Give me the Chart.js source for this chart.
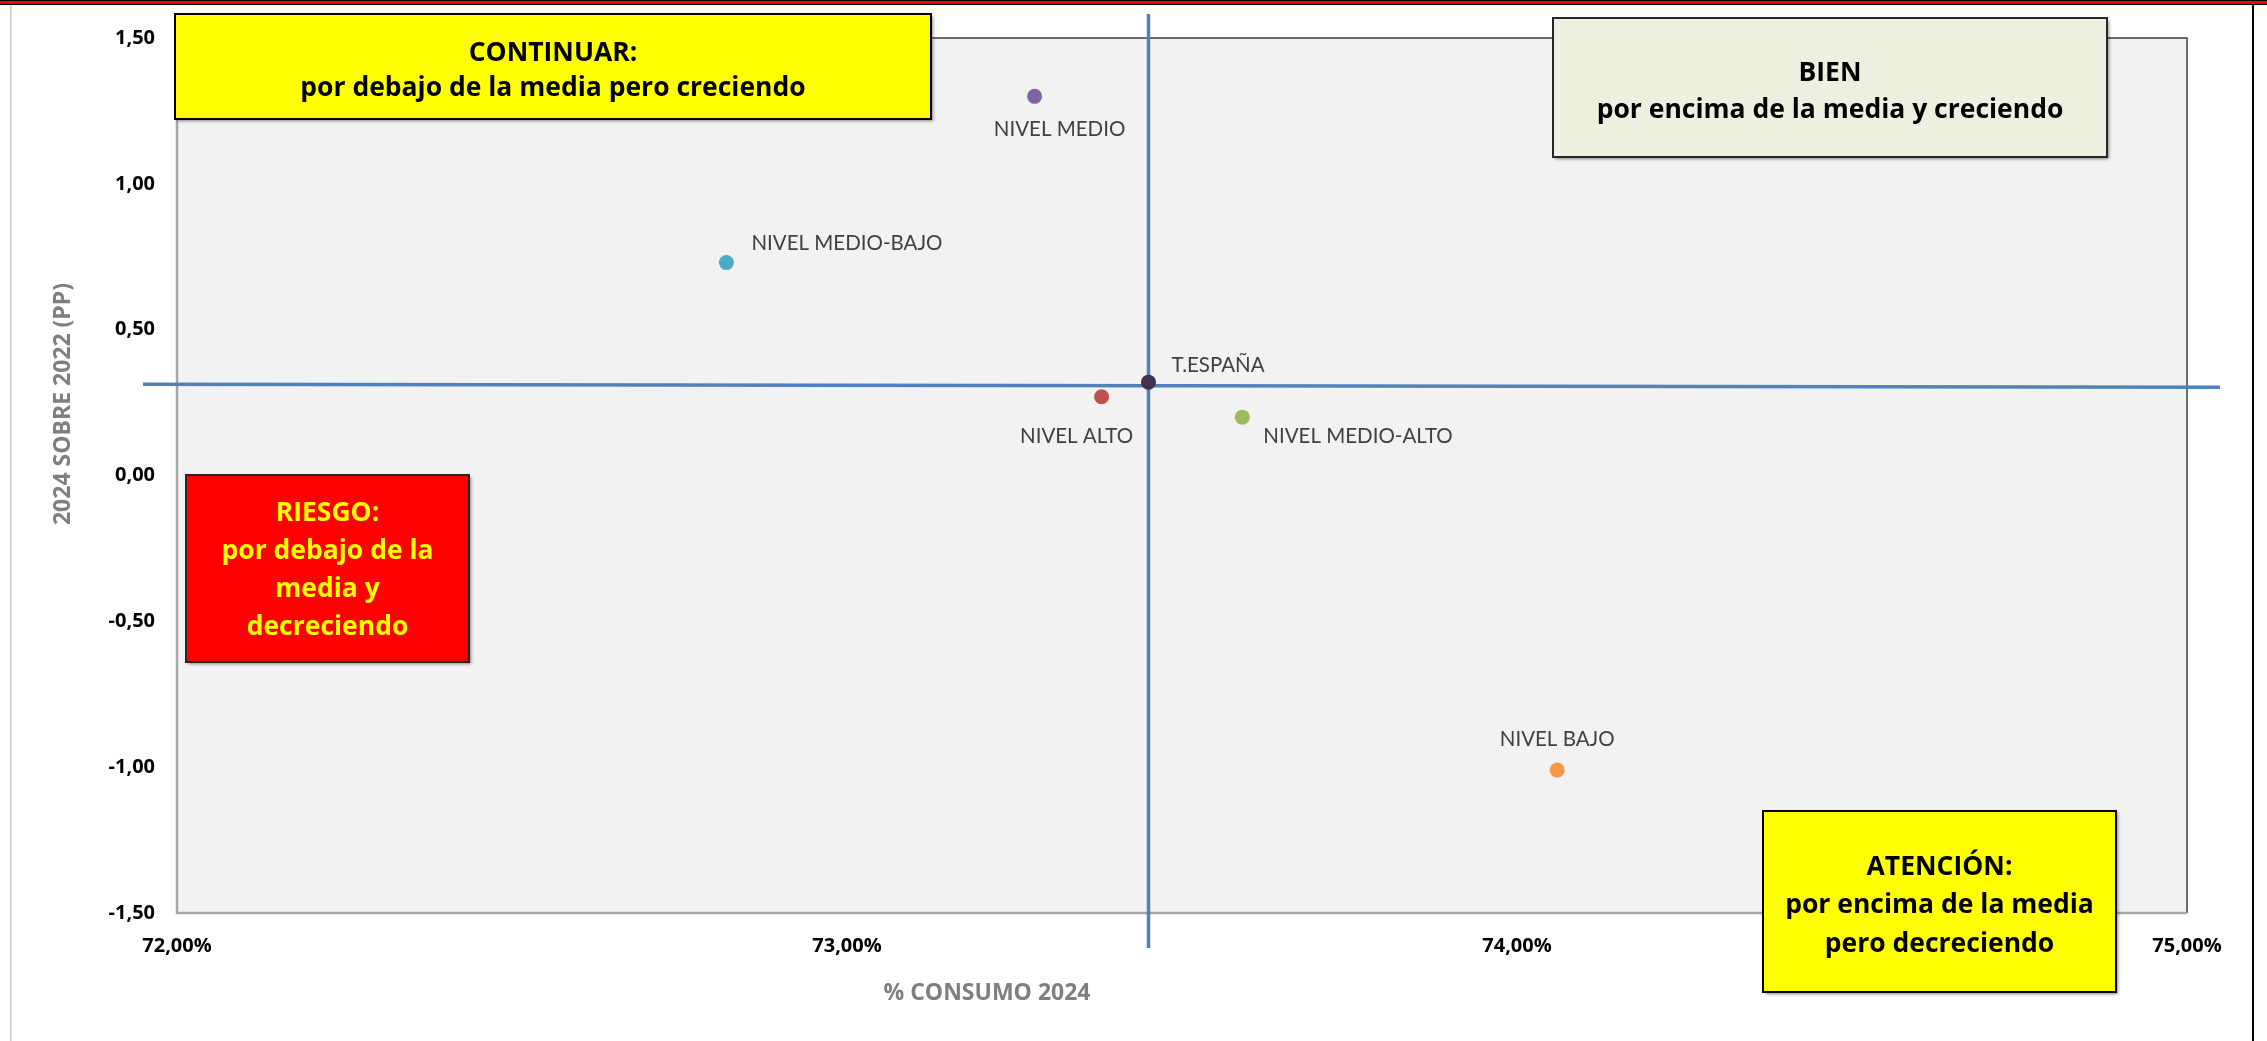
<!DOCTYPE html>
<html>
<head>
<meta charset="utf-8">
<script src="https://cdn.jsdelivr.net/npm/chart.js@4.4.1/dist/chart.umd.min.js"></script>
<style>
  html, body { margin: 0; padding: 0; background: #fff; }
  #wrap { width: 2267px; height: 1041px; }
</style>
</head>
<body>
<div id="wrap"><canvas id="chart" width="2267" height="1041"></canvas></div>
<script>
// ---------------------------
// datos
// ---------------------------
const CATEGORIES = ["NIVEL BAJO", "NIVEL MEDIO-BAJO", "NIVEL MEDIO", "NIVEL MEDIO-ALTO", "NIVEL ALTO", "T.ESPAÑA"];
const CONSUMO_2024 = [74.06, 72.82, 73.28, 73.59, 73.38, 73.45];   // % consumo 2024
const VAR_2024_2022 = [-1.01, 0.73, 1.30, 0.20, 0.27, 0.32];       // pp 2024 sobre 2022
const X_TICKS = [72, 73, 74, 75];
const Y_TICKS = [-1.5, -1, -0.5, 0, 0.5, 1, 1.5];
const X_TITLE = "% CONSUMO 2024";
const Y_TITLE = "2024 SOBRE 2022 (PP)";
const REF = "T.ESPAÑA";

const COLORS = ["#F79646", "#4BACC6", "#8064A2", "#9BBB59", "#C0504D", "#403152"];

// posición de cada etiqueta respecto a su punto
const LABEL_POS = {
  "NIVEL BAJO":       { dx: 0,   dy: -31, align: "center" },
  "NIVEL MEDIO-BAJO": { dx: 25,  dy: -19, align: "left" },
  "NIVEL MEDIO":      { dx: 25,  dy: 33,  align: "center" },
  "NIVEL MEDIO-ALTO": { dx: 21,  dy: 19,  align: "left" },
  "NIVEL ALTO":       { dx: -25, dy: 40,  align: "center" },
  "T.ESPAÑA":         { dx: 23,  dy: -17, align: "left" }
};

// cuadros de texto (cuadrantes)
const BOXES = [
  { x: 175, y: 14, w: 756, h: 105, fill: "#FFFF00", stroke: "#000", color: "#000",
    top: 39, lh: 35, lines: ["CONTINUAR:", "por debajo de la media pero creciendo"] },
  { x: 1553, y: 18, w: 554, h: 139, fill: "#EBF1DE", stroke: "#262626", color: "#000",
    top: 55, lh: 37, lines: ["BIEN", "por encima de la media y creciendo"] },
  { x: 186, y: 475, w: 283, h: 187, fill: "#FF0000", stroke: "#262626", color: "#FFFF00",
    top: 38, lh: 38.3, lines: ["RIESGO:", "por debajo de la", "media y", "decreciendo"] },
  { x: 1763, y: 811, w: 353, h: 181, fill: "#FFFF00", stroke: "#000", color: "#000",
    top: 56, lh: 38.5, lines: ["ATENCIÓN:", "por encima de la media", "pero decreciendo"] }
];

const FONT = "'Open Sans', Lato, sans-serif";
const LABEL_FONT = "Lato, 'Open Sans', sans-serif";
const fmt = v => v.toFixed(2).replace(".", ",");

// ---------------------------
// plugins
// ---------------------------
const fondo = {
  id: "fondo",
  beforeDraw(chart) {
    const { ctx, chartArea: a, width, height } = chart;
    ctx.save();
    ctx.fillStyle = "#fff";
    ctx.fillRect(0, 0, width, height);
    // marco
    ctx.fillStyle = "#000";
    ctx.fillRect(0, 0, width, 5);
    ctx.fillStyle = "#FF0000";
    ctx.fillRect(0, 1, width, 3);
    ctx.fillStyle = "#C8C8C8";
    ctx.fillRect(10, 5, 1.5, height - 5);
    ctx.fillStyle = "#000";
    ctx.fillRect(2252, 5, 2, height - 5);
    // área de trazado
    ctx.fillStyle = "#F2F2F2";
    ctx.fillRect(a.left, a.top, a.right - a.left, a.bottom - a.top);
    ctx.restore();
  },
  beforeDatasetsDraw(chart) {
    const { ctx, chartArea: a, scales } = chart;
    ctx.save();
    ctx.strokeStyle = "#3F3F3F";
    ctx.lineWidth = 1.5;
    ctx.beginPath();
    ctx.moveTo(a.left, a.top); ctx.lineTo(a.right, a.top); ctx.lineTo(a.right, a.bottom);
    ctx.stroke();
    ctx.strokeStyle = "#A6A6A6";
    ctx.lineWidth = 2.5;
    ctx.beginPath();
    ctx.moveTo(a.left, a.top); ctx.lineTo(a.left, a.bottom); ctx.lineTo(a.right, a.bottom);
    ctx.stroke();

    // líneas de la media (T.ESPAÑA)
    const i = CATEGORIES.indexOf(REF);
    const px = scales.x.getPixelForValue(CONSUMO_2024[i]);
    const py = scales.y.getPixelForValue(VAR_2024_2022[i]);
    ctx.strokeStyle = "#4F81BD";
    ctx.lineWidth = 3.5;
    ctx.beginPath();
    ctx.moveTo(px, a.top - 24); ctx.lineTo(px, a.bottom + 35);
    ctx.moveTo(a.left - 34, py + 2); ctx.lineTo(a.right + 33, py + 5);
    ctx.stroke();
    ctx.restore();
  },
  afterDatasetsDraw(chart) {
    const { ctx } = chart;
    const meta = chart.getDatasetMeta(0);
    ctx.save();
    ctx.font = "20.5px " + LABEL_FONT;
    ctx.fillStyle = "#404040";
    ctx.textBaseline = "middle";
    meta.data.forEach((pt, k) => {
      const p = LABEL_POS[CATEGORIES[k]];
      ctx.textAlign = p.align;
      ctx.fillText(CATEGORIES[k], pt.x + p.dx, pt.y + p.dy);
    });

    // títulos de ejes
    ctx.fillStyle = "#7F7F7F";
    ctx.font = "bold 23px " + FONT;
    ctx.textAlign = "center";
    ctx.fillText(X_TITLE, 987, 993);
    ctx.translate(63, 404);
    ctx.rotate(-Math.PI / 2);
    ctx.fillText(Y_TITLE, 0, 0);
    ctx.restore();
  },
  afterDraw(chart) {
    const { ctx } = chart;
    BOXES.forEach(b => {
      ctx.save();
      ctx.shadowColor = "rgba(0,0,0,0.45)";
      ctx.shadowOffsetX = 2;
      ctx.shadowOffsetY = 2;
      ctx.shadowBlur = 3;
      ctx.fillStyle = b.fill;
      ctx.fillRect(b.x, b.y, b.w, b.h);
      ctx.shadowColor = "transparent";
      ctx.strokeStyle = b.stroke;
      ctx.lineWidth = 2;
      ctx.strokeRect(b.x, b.y, b.w, b.h);
      ctx.fillStyle = b.color;
      ctx.font = "bold 26.5px " + FONT;
      ctx.textAlign = "center";
      ctx.textBaseline = "middle";
      b.lines.forEach((t, j) => ctx.fillText(t, b.x + b.w / 2, b.y + b.top + j * b.lh));
      ctx.restore();
    });
  }
};

// ---------------------------
// gráfico
// ---------------------------
function createChart() {
  const ctx = document.getElementById("chart").getContext("2d");
  return new Chart(ctx, {
    type: "scatter",
    data: {
      labels: CATEGORIES,
      datasets: [{
        data: CATEGORIES.map((c, i) => ({ x: CONSUMO_2024[i], y: VAR_2024_2022[i] })),
        pointBackgroundColor: COLORS,
        pointBorderWidth: 0,
        pointRadius: 7.5,
        pointHoverRadius: 7.5
      }]
    },
    options: {
      responsive: false,
      animation: false,
      layout: { padding: { top: 38, right: 80, left: 0, bottom: 0 } },
      plugins: { legend: { display: false }, tooltip: { enabled: false } },
      scales: {
        x: {
          type: "linear",
          min: X_TICKS[0], max: X_TICKS[X_TICKS.length - 1],
          afterBuildTicks: s => { s.ticks = X_TICKS.map(v => ({ value: v })); },
          afterFit: s => { s.height = 128; },
          grid: { display: false, drawTicks: false },
          border: { display: false },
          ticks: {
            padding: 21,
            color: "#000",
            font: { family: FONT, size: 20, weight: "bold" },
            callback: v => fmt(v) + "%"
          }
        },
        y: {
          type: "linear",
          min: Y_TICKS[0], max: Y_TICKS[Y_TICKS.length - 1],
          afterBuildTicks: s => { s.ticks = Y_TICKS.map(v => ({ value: v })); },
          afterFit: s => { s.width = 177; },
          grid: { display: false, drawTicks: false },
          border: { display: false },
          ticks: {
            padding: 22,
            color: "#000",
            font: { family: FONT, size: 20, weight: "bold" },
            callback: v => fmt(v)
          }
        }
      }
    },
    plugins: [fondo]
  });
}

createChart();
</script>
</body>
</html>
